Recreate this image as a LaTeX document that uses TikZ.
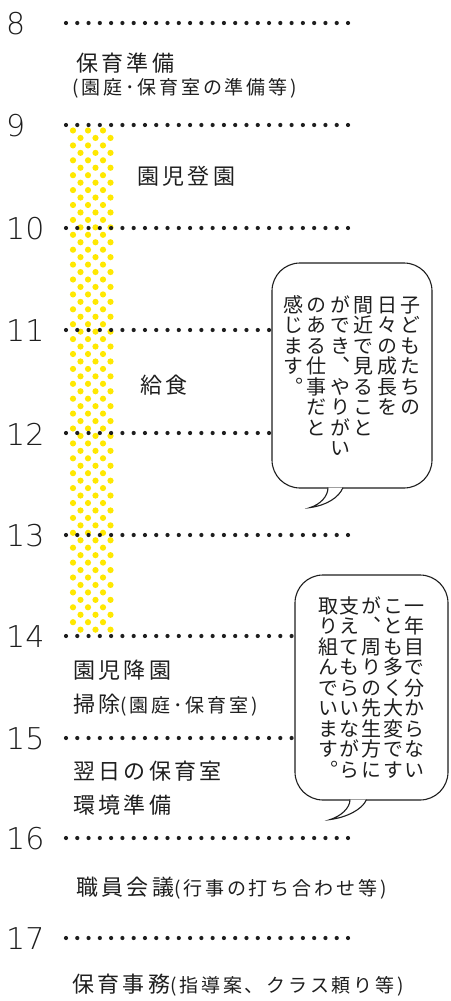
\documentclass[tikz,border=0pt]{standalone}
\usepackage{fontspec}
\setmainfont{Noto Sans CJK JP}
\newfontfamily\jpfont[LetterSpace=15]{Noto Sans CJK JP}
\newfontfamily\tatefont[RawFeature=+vert]{Noto Sans CJK JP}
\IfFontExistsTF{DejaVu Sans ExtraLight}
  {\newfontfamily\numfont{DejaVu Sans ExtraLight}}
  {\newfontfamily\numfont{DejaVu Sans}}
\usetikzlibrary{calc}
\definecolor{dotyellow}{HTML}{FFE800}
\definecolor{ink}{HTML}{1E1E1E}
\newlength\tategap
\makeatletter
% one column of vertical text, read from top to bottom
\newcommand\tatecol[1]{\vtop{\baselineskip=20.5pt\lineskiplimit=-100pt
    \@tfor\tc@ch:=#1\do{\hbox to 20.5pt{\hss\tc@ch\hss}}}\hskip\tategap}
\makeatother
\newcommand\subnote[1]{{\fontsize{19}{22}\selectfont#1}}
\tikzset{
    hour/.style={
           anchor=west,
           inner sep=0pt,
           text=ink,
           font=\numfont\fontsize{30}{30}\selectfont,
           },
    hourline/.style={
           draw=ink,
           line width=4.2pt,
           line cap=round,
           dash pattern=on 0pt off 11.28pt,
           },
    task/.style={
           anchor=west,
           inner sep=0pt,
           text=ink,
           font=\jpfont\fontsize{22}{26}\selectfont,
           },
    bubble/.style={
           draw=ink, line width=1.1pt,
           fill=white,
           rounded corners=28pt,
           inner sep=0pt,
           text=ink,
           font=\tatefont\fontsize{20}{20.5}\selectfont,
           },
    tail/.style={
           draw=ink, line width=1.1pt,
           fill=white,
           },
}

\begin{document}
\begin{tikzpicture}[x=1pt,y=-1pt]

  \useasboundingbox (0,0) rectangle (450,1001);

  % yellow dots behind the children's hours
  \foreach \r in {0,...,67}
    \foreach \c in {0,1,2}
      \fill[dotyellow] ({73+15*\c+7.5*mod(\r,2)},{130.5+7.45*\r}) circle[radius=3.1pt];

  \foreach \h/\y in {8/23,9/125,10/228,11/330,12/433,13/535,14/636,15/738,16/838,17/938} {
    \node[hour] (h\h) at (6,\y+1) {\h};
    \draw[hourline] (66,\y) -- (349,\y);
  }

  \node[task] (prep)    at (76,63)  {保育準備};
  \node[task] (prepsub) at (72,88)  {\subnote{(園庭･保育室の準備等)}};
  \node[task] (arrive)  at (137,176) {園児登園};
  \node[task] (lunch)   at (140,385) {給食};
  \node[task] (leave)   at (73,670) {園児降園};
  \node[task] (clean)   at (73,705) {掃除\subnote{(園庭･保育室)}};
  \node[task] (next)    at (73,771) {翌日の保育室};
  \node[task] (env)     at (73,805) {環境準備};
  \node[task] (meet)    at (76,888) {職員会議\subnote{(行事の打ち合わせ等)}};
  \node[task] (office)  at (72,985) {保育事務\subnote{(指導案、クラス頼り等)}};

  % speech bubbles
  \node[bubble, minimum width=160pt, minimum height=225pt] (bub1) at (352,375.5)
    {\setlength\tategap{3pt}%
     \tatecol{感じます。}\tatecol{のある仕事だと}\tatecol{ができ、やりがい}%
     \tatecol{間近で見ること}\tatecol{日々の成長を}\tatecol{子どもたちの}};
  \coordinate (tip1) at ($(bub1.south)+(-42,19)$);
  \path[tail] ($(bub1.south)+(-24,-1)$) .. controls ($(bub1.south)+(-24,8)$) and ($(tip1)+(10,-3)$) .. (tip1)
              .. controls ($(tip1)+(16,-2)$) and ($(bub1.south)+(-13,9)$) .. ($(bub1.south)+(-9,-1)$);

  \node[bubble, minimum width=153pt, minimum height=225pt] (bub2) at (371.5,687.5)
    {\setlength\tategap{1.2pt}%
     \tatecol{取り組んでいます。}\tatecol{支えてもらいながら}\tatecol{が、周りの先生方に}%
     \tatecol{ことも多く大変です}\tatecol{一年目で分からない}};
  \coordinate (tip2) at ($(bub2.south)+(-41.5,19)$);
  \path[tail] ($(bub2.south)+(-21.5,-1)$) .. controls ($(bub2.south)+(-21.5,8)$) and ($(tip2)+(10,-3)$) .. (tip2)
              .. controls ($(tip2)+(16,-2)$) and ($(bub2.south)+(-9,9)$) .. ($(bub2.south)+(-5,-1)$);

\end{tikzpicture}
\end{document}
